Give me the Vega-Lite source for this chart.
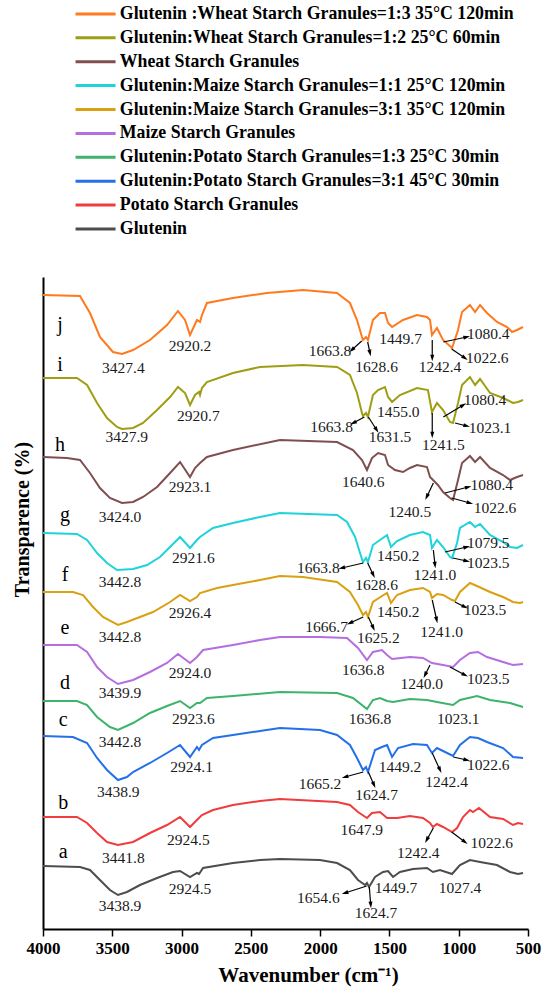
{
"$schema": "https://vega.github.io/schema/vega-lite/v6.json",
"width": 485, "height": 652,
"autosize": "none",
"padding": {"left": 43, "top": 277, "right": 22, "bottom": 65},
"background": "white",
"config": {"view": {"stroke": null}, "font": "Times New Roman, Liberation Serif, DejaVu Serif, serif"},
"datasets": {
"names": [
{"s":"j","name":"Glutenin :Wheat Starch Granules=1:3 35°C 120min"},
{"s":"i","name":"Glutenin:Wheat Starch Granules=1:2 25°C  60min"},
{"s":"h","name":"Wheat Starch Granules"},
{"s":"g","name":"Glutenin:Maize Starch Granules=1:1 25°C  120min"},
{"s":"f","name":"Glutenin:Maize Starch Granules=3:1 35°C  120min"},
{"s":"e","name":"Maize Starch Granules"},
{"s":"d","name":"Glutenin:Potato Starch Granules=1:3 25°C 30min"},
{"s":"c","name":"Glutenin:Potato Starch Granules=3:1 45°C 30min"},
{"s":"b","name":"Potato Starch Granules"},
{"s":"a","name":"Glutenin"}
],
"spectra": [
{"s":"j","w":4000,"t":634},{"s":"j","w":3733,"t":633},{"s":"j","w":3661,"t":616},{"s":"j","w":3589,"t":592},{"s":"j","w":3495,"t":577},{"s":"j","w":3430,"t":575},{"s":"j","w":3350,"t":579},{"s":"j","w":3228,"t":589},{"s":"j","w":3105,"t":604},{"s":"j","w":3026,"t":618},{"s":"j","w":2975,"t":609},{"s":"j","w":2939,"t":594},{"s":"j","w":2889,"t":609},{"s":"j","w":2867,"t":607},{"s":"j","w":2853,"t":614},{"s":"j","w":2817,"t":626},{"s":"j","w":2629,"t":631},{"s":"j","w":2384,"t":636},{"s":"j","w":2124,"t":639},{"s":"j","w":1878,"t":636},{"s":"j","w":1785,"t":626},{"s":"j","w":1734,"t":609},{"s":"j","w":1698,"t":592},{"s":"j","w":1691,"t":589},{"s":"j","w":1669,"t":592},{"s":"j","w":1655,"t":589},{"s":"j","w":1619,"t":609},{"s":"j","w":1568,"t":616},{"s":"j","w":1532,"t":616},{"s":"j","w":1510,"t":606},{"s":"j","w":1481,"t":602},{"s":"j","w":1402,"t":609},{"s":"j","w":1301,"t":614},{"s":"j","w":1229,"t":612},{"s":"j","w":1207,"t":609},{"s":"j","w":1193,"t":594},{"s":"j","w":1157,"t":601},{"s":"j","w":1113,"t":589},{"s":"j","w":1048,"t":581},{"s":"j","w":1005,"t":599},{"s":"j","w":976,"t":617},{"s":"j","w":919,"t":624},{"s":"j","w":882,"t":617},{"s":"j","w":846,"t":624},{"s":"j","w":796,"t":616},{"s":"j","w":724,"t":607},{"s":"j","w":651,"t":602},{"s":"j","w":615,"t":597},{"s":"j","w":579,"t":599},{"s":"j","w":536,"t":602},
{"s":"i","w":4000,"t":551},{"s":"i","w":3755,"t":551},{"s":"i","w":3682,"t":544},{"s":"i","w":3610,"t":526},{"s":"i","w":3538,"t":511},{"s":"i","w":3466,"t":502},{"s":"i","w":3430,"t":500},{"s":"i","w":3350,"t":501},{"s":"i","w":3278,"t":506},{"s":"i","w":3177,"t":519},{"s":"i","w":3083,"t":532},{"s":"i","w":3026,"t":542},{"s":"i","w":2975,"t":536},{"s":"i","w":2939,"t":524},{"s":"i","w":2903,"t":534},{"s":"i","w":2874,"t":537},{"s":"i","w":2867,"t":534},{"s":"i","w":2853,"t":541},{"s":"i","w":2817,"t":547},{"s":"i","w":2629,"t":556},{"s":"i","w":2434,"t":562},{"s":"i","w":2124,"t":564},{"s":"i","w":1878,"t":562},{"s":"i","w":1785,"t":554},{"s":"i","w":1734,"t":536},{"s":"i","w":1698,"t":516},{"s":"i","w":1691,"t":513},{"s":"i","w":1669,"t":516},{"s":"i","w":1655,"t":512},{"s":"i","w":1619,"t":534},{"s":"i","w":1582,"t":539},{"s":"i","w":1532,"t":542},{"s":"i","w":1510,"t":532},{"s":"i","w":1481,"t":527},{"s":"i","w":1424,"t":534},{"s":"i","w":1301,"t":541},{"s":"i","w":1222,"t":539},{"s":"i","w":1193,"t":517},{"s":"i","w":1157,"t":526},{"s":"i","w":1113,"t":519},{"s":"i","w":1063,"t":507},{"s":"i","w":1041,"t":506},{"s":"i","w":1005,"t":526},{"s":"i","w":976,"t":544},{"s":"i","w":919,"t":552},{"s":"i","w":882,"t":544},{"s":"i","w":846,"t":550},{"s":"i","w":774,"t":536},{"s":"i","w":680,"t":531},{"s":"i","w":608,"t":526},{"s":"i","w":572,"t":527},{"s":"i","w":536,"t":529},
{"s":"h","w":4000,"t":472},{"s":"h","w":3827,"t":471},{"s":"h","w":3733,"t":469},{"s":"h","w":3661,"t":456},{"s":"h","w":3589,"t":441},{"s":"h","w":3517,"t":431},{"s":"h","w":3430,"t":426},{"s":"h","w":3350,"t":427},{"s":"h","w":3278,"t":432},{"s":"h","w":3177,"t":442},{"s":"h","w":3083,"t":456},{"s":"h","w":3011,"t":467},{"s":"h","w":2939,"t":452},{"s":"h","w":2903,"t":461},{"s":"h","w":2867,"t":466},{"s":"h","w":2817,"t":472},{"s":"h","w":2629,"t":479},{"s":"h","w":2290,"t":489},{"s":"h","w":1878,"t":487},{"s":"h","w":1763,"t":479},{"s":"h","w":1698,"t":469},{"s":"h","w":1662,"t":459},{"s":"h","w":1626,"t":471},{"s":"h","w":1582,"t":476},{"s":"h","w":1532,"t":474},{"s":"h","w":1510,"t":464},{"s":"h","w":1460,"t":459},{"s":"h","w":1402,"t":457},{"s":"h","w":1352,"t":461},{"s":"h","w":1301,"t":464},{"s":"h","w":1229,"t":462},{"s":"h","w":1207,"t":452},{"s":"h","w":1171,"t":447},{"s":"h","w":1150,"t":444},{"s":"h","w":1113,"t":437},{"s":"h","w":1063,"t":431},{"s":"h","w":1041,"t":429},{"s":"h","w":1005,"t":449},{"s":"h","w":976,"t":466},{"s":"h","w":919,"t":473},{"s":"h","w":882,"t":467},{"s":"h","w":846,"t":472},{"s":"h","w":774,"t":461},{"s":"h","w":680,"t":454},{"s":"h","w":630,"t":449},{"s":"h","w":579,"t":452},{"s":"h","w":536,"t":454},
{"s":"g","w":4000,"t":396},{"s":"g","w":3755,"t":395},{"s":"g","w":3682,"t":389},{"s":"g","w":3610,"t":376},{"s":"g","w":3538,"t":366},{"s":"g","w":3466,"t":359},{"s":"g","w":3350,"t":360},{"s":"g","w":3249,"t":364},{"s":"g","w":3156,"t":372},{"s":"g","w":3069,"t":384},{"s":"g","w":3011,"t":392},{"s":"g","w":2939,"t":381},{"s":"g","w":2889,"t":389},{"s":"g","w":2867,"t":392},{"s":"g","w":2773,"t":401},{"s":"g","w":2629,"t":406},{"s":"g","w":2434,"t":412},{"s":"g","w":2290,"t":416},{"s":"g","w":1878,"t":414},{"s":"g","w":1806,"t":407},{"s":"g","w":1748,"t":392},{"s":"g","w":1712,"t":376},{"s":"g","w":1691,"t":367},{"s":"g","w":1669,"t":371},{"s":"g","w":1655,"t":367},{"s":"g","w":1619,"t":384},{"s":"g","w":1568,"t":389},{"s":"g","w":1517,"t":394},{"s":"g","w":1489,"t":382},{"s":"g","w":1445,"t":388},{"s":"g","w":1352,"t":394},{"s":"g","w":1258,"t":397},{"s":"g","w":1207,"t":394},{"s":"g","w":1193,"t":381},{"s":"g","w":1157,"t":389},{"s":"g","w":1113,"t":382},{"s":"g","w":1063,"t":372},{"s":"g","w":1048,"t":371},{"s":"g","w":1012,"t":386},{"s":"g","w":991,"t":401},{"s":"g","w":919,"t":407},{"s":"g","w":882,"t":402},{"s":"g","w":846,"t":405},{"s":"g","w":774,"t":394},{"s":"g","w":680,"t":387},{"s":"g","w":630,"t":382},{"s":"g","w":579,"t":381},{"s":"g","w":536,"t":384},
{"s":"f","w":4000,"t":337},{"s":"f","w":3784,"t":337},{"s":"f","w":3711,"t":334},{"s":"f","w":3639,"t":322},{"s":"f","w":3567,"t":312},{"s":"f","w":3459,"t":304},{"s":"f","w":3394,"t":307},{"s":"f","w":3300,"t":312},{"s":"f","w":3206,"t":317},{"s":"f","w":3083,"t":327},{"s":"f","w":3011,"t":334},{"s":"f","w":2939,"t":328},{"s":"f","w":2889,"t":332},{"s":"f","w":2867,"t":336},{"s":"f","w":2744,"t":341},{"s":"f","w":2629,"t":344},{"s":"f","w":2434,"t":349},{"s":"f","w":2290,"t":353},{"s":"f","w":2124,"t":352},{"s":"f","w":1878,"t":347},{"s":"f","w":1785,"t":337},{"s":"f","w":1727,"t":324},{"s":"f","w":1691,"t":314},{"s":"f","w":1669,"t":317},{"s":"f","w":1655,"t":312},{"s":"f","w":1619,"t":327},{"s":"f","w":1554,"t":333},{"s":"f","w":1517,"t":336},{"s":"f","w":1489,"t":326},{"s":"f","w":1445,"t":334},{"s":"f","w":1352,"t":339},{"s":"f","w":1258,"t":341},{"s":"f","w":1207,"t":337},{"s":"f","w":1193,"t":331},{"s":"f","w":1157,"t":335},{"s":"f","w":1113,"t":334},{"s":"f","w":1048,"t":329},{"s":"f","w":1027,"t":328},{"s":"f","w":991,"t":337},{"s":"f","w":919,"t":346},{"s":"f","w":868,"t":343},{"s":"f","w":774,"t":337},{"s":"f","w":680,"t":332},{"s":"f","w":608,"t":327},{"s":"f","w":558,"t":326},{"s":"f","w":536,"t":327},
{"s":"e","w":4000,"t":284},{"s":"e","w":3755,"t":284},{"s":"e","w":3682,"t":277},{"s":"e","w":3610,"t":262},{"s":"e","w":3538,"t":252},{"s":"e","w":3459,"t":245},{"s":"e","w":3350,"t":249},{"s":"e","w":3228,"t":257},{"s":"e","w":3105,"t":266},{"s":"e","w":3026,"t":275},{"s":"e","w":2939,"t":266},{"s":"e","w":2889,"t":272},{"s":"e","w":2845,"t":279},{"s":"e","w":2629,"t":284},{"s":"e","w":2434,"t":289},{"s":"e","w":2290,"t":292},{"s":"e","w":2001,"t":292},{"s":"e","w":1806,"t":291},{"s":"e","w":1727,"t":281},{"s":"e","w":1662,"t":269},{"s":"e","w":1619,"t":277},{"s":"e","w":1554,"t":279},{"s":"e","w":1517,"t":274},{"s":"e","w":1481,"t":270},{"s":"e","w":1352,"t":272},{"s":"e","w":1258,"t":271},{"s":"e","w":1193,"t":266},{"s":"e","w":1113,"t":264},{"s":"e","w":1041,"t":262},{"s":"e","w":991,"t":269},{"s":"e","w":919,"t":276},{"s":"e","w":861,"t":277},{"s":"e","w":796,"t":272},{"s":"e","w":680,"t":267},{"s":"e","w":608,"t":264},{"s":"e","w":536,"t":265},
{"s":"d","w":4000,"t":228},{"s":"d","w":3755,"t":228},{"s":"d","w":3682,"t":224},{"s":"d","w":3610,"t":212},{"s":"d","w":3517,"t":202},{"s":"d","w":3459,"t":199},{"s":"d","w":3350,"t":206},{"s":"d","w":3228,"t":216},{"s":"d","w":3105,"t":223},{"s":"d","w":3011,"t":228},{"s":"d","w":2939,"t":221},{"s":"d","w":2889,"t":226},{"s":"d","w":2867,"t":226},{"s":"d","w":2817,"t":231},{"s":"d","w":2629,"t":233},{"s":"d","w":2290,"t":237},{"s":"d","w":1878,"t":236},{"s":"d","w":1763,"t":231},{"s":"d","w":1662,"t":220},{"s":"d","w":1619,"t":229},{"s":"d","w":1568,"t":231},{"s":"d","w":1517,"t":228},{"s":"d","w":1474,"t":227},{"s":"d","w":1352,"t":230},{"s":"d","w":1229,"t":229},{"s":"d","w":1157,"t":227},{"s":"d","w":1041,"t":224},{"s":"d","w":991,"t":229},{"s":"d","w":868,"t":233},{"s":"d","w":774,"t":229},{"s":"d","w":630,"t":226},{"s":"d","w":536,"t":222},
{"s":"c","w":4000,"t":193},{"s":"c","w":3784,"t":192},{"s":"c","w":3682,"t":186},{"s":"c","w":3610,"t":171},{"s":"c","w":3538,"t":159},{"s":"c","w":3459,"t":149},{"s":"c","w":3394,"t":152},{"s":"c","w":3350,"t":157},{"s":"c","w":3228,"t":166},{"s":"c","w":3105,"t":176},{"s":"c","w":3011,"t":184},{"s":"c","w":2939,"t":172},{"s":"c","w":2889,"t":182},{"s":"c","w":2874,"t":179},{"s":"c","w":2853,"t":184},{"s":"c","w":2773,"t":191},{"s":"c","w":2629,"t":194},{"s":"c","w":2434,"t":198},{"s":"c","w":2290,"t":201},{"s":"c","w":2001,"t":199},{"s":"c","w":1878,"t":194},{"s":"c","w":1785,"t":184},{"s":"c","w":1734,"t":171},{"s":"c","w":1691,"t":159},{"s":"c","w":1669,"t":162},{"s":"c","w":1655,"t":157},{"s":"c","w":1604,"t":179},{"s":"c","w":1554,"t":182},{"s":"c","w":1517,"t":184},{"s":"c","w":1481,"t":172},{"s":"c","w":1438,"t":181},{"s":"c","w":1330,"t":185},{"s":"c","w":1229,"t":184},{"s":"c","w":1193,"t":176},{"s":"c","w":1157,"t":181},{"s":"c","w":1113,"t":178},{"s":"c","w":1041,"t":173},{"s":"c","w":991,"t":184},{"s":"c","w":919,"t":192},{"s":"c","w":861,"t":191},{"s":"c","w":796,"t":187},{"s":"c","w":680,"t":181},{"s":"c","w":608,"t":172},{"s":"c","w":536,"t":171},
{"s":"b","w":4000,"t":112},{"s":"b","w":3755,"t":112},{"s":"b","w":3682,"t":106},{"s":"b","w":3610,"t":96},{"s":"b","w":3538,"t":87},{"s":"b","w":3459,"t":84},{"s":"b","w":3350,"t":87},{"s":"b","w":3228,"t":96},{"s":"b","w":3105,"t":104},{"s":"b","w":3011,"t":112},{"s":"b","w":2939,"t":102},{"s":"b","w":2889,"t":109},{"s":"b","w":2853,"t":114},{"s":"b","w":2773,"t":119},{"s":"b","w":2629,"t":124},{"s":"b","w":2434,"t":128},{"s":"b","w":2290,"t":130},{"s":"b","w":1878,"t":127},{"s":"b","w":1785,"t":124},{"s":"b","w":1727,"t":117},{"s":"b","w":1662,"t":111},{"s":"b","w":1626,"t":116},{"s":"b","w":1568,"t":117},{"s":"b","w":1517,"t":111},{"s":"b","w":1445,"t":111},{"s":"b","w":1352,"t":113},{"s":"b","w":1258,"t":111},{"s":"b","w":1207,"t":106},{"s":"b","w":1186,"t":102},{"s":"b","w":1157,"t":105},{"s":"b","w":1113,"t":102},{"s":"b","w":1048,"t":97},{"s":"b","w":1012,"t":101},{"s":"b","w":969,"t":112},{"s":"b","w":919,"t":119},{"s":"b","w":897,"t":117},{"s":"b","w":854,"t":121},{"s":"b","w":774,"t":112},{"s":"b","w":680,"t":110},{"s":"b","w":608,"t":104},{"s":"b","w":572,"t":106},{"s":"b","w":536,"t":105},
{"s":"a","w":4000,"t":63},{"s":"a","w":3733,"t":62},{"s":"a","w":3661,"t":59},{"s":"a","w":3589,"t":49},{"s":"a","w":3517,"t":39},{"s":"a","w":3459,"t":34},{"s":"a","w":3394,"t":37},{"s":"a","w":3300,"t":44},{"s":"a","w":3177,"t":51},{"s":"a","w":3062,"t":57},{"s":"a","w":3011,"t":58},{"s":"a","w":2939,"t":52},{"s":"a","w":2889,"t":56},{"s":"a","w":2874,"t":55},{"s":"a","w":2845,"t":61},{"s":"a","w":2629,"t":66},{"s":"a","w":2434,"t":69},{"s":"a","w":2290,"t":70},{"s":"a","w":2001,"t":69},{"s":"a","w":1878,"t":66},{"s":"a","w":1785,"t":59},{"s":"a","w":1727,"t":49},{"s":"a","w":1676,"t":44},{"s":"a","w":1662,"t":46},{"s":"a","w":1647,"t":42},{"s":"a","w":1604,"t":52},{"s":"a","w":1546,"t":57},{"s":"a","w":1510,"t":58},{"s":"a","w":1474,"t":52},{"s":"a","w":1424,"t":57},{"s":"a","w":1330,"t":60},{"s":"a","w":1229,"t":61},{"s":"a","w":1186,"t":57},{"s":"a","w":1135,"t":59},{"s":"a","w":1048,"t":55},{"s":"a","w":991,"t":64},{"s":"a","w":919,"t":69},{"s":"a","w":846,"t":67},{"s":"a","w":724,"t":64},{"s":"a","w":630,"t":57},{"s":"a","w":572,"t":55},{"s":"a","w":536,"t":56}
],
"letters": [
{"lab":"j","w":3877,"t":604},{"lab":"i","w":3877,"t":564},{"lab":"h","w":3877,"t":484},{"lab":"g","w":3841,"t":414},{"lab":"f","w":3841,"t":354},{"lab":"e","w":3841,"t":301},{"lab":"d","w":3841,"t":246},{"lab":"c","w":3854,"t":209},{"lab":"b","w":3854,"t":126},{"lab":"a","w":3854,"t":77}
],
"peaks": [
{"lab":"3427.4","w":3420,"t":561},{"lab":"2920.2","w":2939,"t":583},{"lab":"1663.8","w":1929,"t":578},{"lab":"1628.6","w":1592,"t":562},{"lab":"1449.7","w":1419,"t":590},{"lab":"1242.4","w":1135,"t":562},{"lab":"1080.4","w":787,"t":595},{"lab":"1022.6","w":794,"t":571},
{"lab":"3427.9","w":3396,"t":492},{"lab":"2920.7","w":2879,"t":513},{"lab":"1663.8","w":1917,"t":502},{"lab":"1631.5","w":1496,"t":492},{"lab":"1455.0","w":1436,"t":517},{"lab":"1241.5","w":1111,"t":484},{"lab":"1080.4","w":810,"t":529},{"lab":"1023.1","w":774,"t":501},
{"lab":"3424.0","w":3444,"t":412},{"lab":"2923.1","w":2939,"t":442},{"lab":"1640.6","w":1689,"t":447},{"lab":"1240.5","w":1352,"t":417},{"lab":"1080.4","w":762,"t":444},{"lab":"1022.6","w":738,"t":421},
{"lab":"3442.8","w":3444,"t":347},{"lab":"2921.6","w":2915,"t":371},{"lab":"1663.8","w":2013,"t":361},{"lab":"1628.6","w":1592,"t":344},{"lab":"1450.2","w":1436,"t":373},{"lab":"1241.0","w":1171,"t":354},{"lab":"1079.5","w":787,"t":386},{"lab":"1023.5","w":787,"t":366},
{"lab":"3442.8","w":3444,"t":292},{"lab":"2926.4","w":2939,"t":316},{"lab":"1666.7","w":1953,"t":302},{"lab":"1625.2","w":1580,"t":291},{"lab":"1450.2","w":1436,"t":317},{"lab":"1241.0","w":1123,"t":297},{"lab":"1023.5","w":810,"t":319},
{"lab":"3439.9","w":3444,"t":236},{"lab":"2924.0","w":2939,"t":256},{"lab":"1636.8","w":1689,"t":259},{"lab":"1240.0","w":1267,"t":245},{"lab":"1023.5","w":787,"t":250},
{"lab":"3442.8","w":3444,"t":187},{"lab":"2923.6","w":2915,"t":210},{"lab":"1636.8","w":1640,"t":210},{"lab":"1023.1","w":1003,"t":210},
{"lab":"3438.9","w":3457,"t":137},{"lab":"2924.1","w":2927,"t":162},{"lab":"1665.2","w":2001,"t":145},{"lab":"1624.7","w":1592,"t":134},{"lab":"1449.2","w":1424,"t":162},{"lab":"1242.4","w":1087,"t":147},{"lab":"1022.6","w":787,"t":164},
{"lab":"3441.8","w":3420,"t":71},{"lab":"2924.5","w":2951,"t":89},{"lab":"1647.9","w":1700,"t":99},{"lab":"1242.4","w":1292,"t":76},{"lab":"1022.6","w":762,"t":86},
{"lab":"3438.9","w":3444,"t":23},{"lab":"2924.5","w":2939,"t":40},{"lab":"1654.6","w":2013,"t":31},{"lab":"1624.7","w":1597,"t":16},{"lab":"1449.7","w":1453,"t":41},{"lab":"1027.4","w":991,"t":41}
],
"arrows": [
{"w1":1700,"t1":588,"w2":1772,"t2":579},{"w1":1657,"t1":587,"w2":1640,"t2":576},{"w1":1191,"t1":589,"w2":1191,"t2":571},{"w1":1111,"t1":587,"w2":942,"t2":592},{"w1":1051,"t1":580,"w2":955,"t2":571},
{"w1":1681,"t1":512,"w2":1761,"t2":506},{"w1":1652,"t1":512,"w2":1592,"t2":499},{"w1":1191,"t1":516,"w2":1191,"t2":494},{"w1":1111,"t1":512,"w2":967,"t2":524},{"w1":1027,"t1":506,"w2":942,"t2":503},
{"w1":1183,"t1":446,"w2":1231,"t2":432},{"w1":1099,"t1":436,"w2":931,"t2":442},{"w1":1051,"t1":431,"w2":919,"t2":426},
{"w1":1689,"t1":366,"w2":1844,"t2":361},{"w1":1657,"t1":366,"w2":1616,"t2":354},{"w1":1183,"t1":379,"w2":1171,"t2":364},{"w1":1099,"t1":377,"w2":942,"t2":382},{"w1":1043,"t1":371,"w2":942,"t2":368},
{"w1":1689,"t1":312,"w2":1785,"t2":306},{"w1":1652,"t1":312,"w2":1616,"t2":301},{"w1":1191,"t1":329,"w2":1159,"t2":309},{"w1":1027,"t1":327,"w2":955,"t2":322},
{"w1":1207,"t1":264,"w2":1243,"t2":254},{"w1":1063,"t1":262,"w2":955,"t2":254},
{"w1":1689,"t1":157,"w2":1821,"t2":152},{"w1":1652,"t1":157,"w2":1611,"t2":144},{"w1":1191,"t1":176,"w2":1135,"t2":159},{"w1":1039,"t1":172,"w2":942,"t2":169},
{"w1":1183,"t1":101,"w2":1231,"t2":89},{"w1":1051,"t1":97,"w2":955,"t2":87},
{"w1":1664,"t1":43,"w2":1821,"t2":36},{"w1":1645,"t1":42,"w2":1635,"t2":24}
]
},
"layer": [
{
"data": {"name": "spectra"},
"transform": [{"lookup": "s", "from": {"data": {"name": "names"}, "key": "s", "fields": ["name"]}}],
"mark": {"type": "line", "strokeWidth": 2},
"encoding": {
"x": {"field": "w", "type": "quantitative",
 "scale": {"domain": [4000, 500], "nice": false, "zero": false},
 "axis": {"values": [4000,3750,3500,3250,3000,2750,2500,2250,2000,1750,1500,1250,1000,750,500],
  "format": "d", "labelExpr": "datum.value % 500 === 0 ? datum.label : ''",
  "labelFont": "Times New Roman, Liberation Serif, serif", "labelFontWeight": "bold", "labelFontSize": 17, "labelColor": "black",
  "labelFlush": false, "labelPadding": 4, "labelOverlap": false,
  "tickColor": "black", "tickSize": 7, "tickWidth": 1.5,
  "domainColor": "black", "domainWidth": 2, "grid": false,
  "title": "Wavenumber (cm⁻¹)", "titleFont": "Times New Roman, Liberation Serif, serif", "titleFontWeight": "bold", "titleFontSize": 21,
  "titleColor": "black", "titleX": 265, "titleY": 52, "titleBaseline": "alphabetic"}},
"y": {"field": "t", "type": "quantitative",
 "scale": {"domain": [0, 652], "nice": false, "zero": false},
 "axis": {"ticks": false, "labels": false, "grid": false, "domainColor": "black", "domainWidth": 2,
  "title": "Transparence (%)", "titleFont": "Times New Roman, Liberation Serif, serif", "titleFontWeight": "bold", "titleFontSize": 20,
  "titleColor": "black", "titlePadding": 11, "titleY": 242}},
"color": {"field": "name", "type": "nominal",
 "scale": {"domain": [
  "Glutenin :Wheat Starch Granules=1:3 35°C 120min",
  "Glutenin:Wheat Starch Granules=1:2 25°C  60min",
  "Wheat Starch Granules",
  "Glutenin:Maize Starch Granules=1:1 25°C  120min",
  "Glutenin:Maize Starch Granules=3:1 35°C  120min",
  "Maize Starch Granules",
  "Glutenin:Potato Starch Granules=1:3 25°C 30min",
  "Glutenin:Potato Starch Granules=3:1 45°C 30min",
  "Potato Starch Granules",
  "Glutenin"],
  "range": ["#FF7A1F","#9E9E14","#7F4F4F","#1ED3DA","#D9A012","#B46EE0","#3DB36B","#2370E8","#F03C3C","#4D4D4D"]},
 "legend": {"orient": "none", "legendX": 57, "legendY": -272, "title": null,
  "symbolType": "M-5,0H1", "symbolSize": 178, "symbolStrokeWidth": 3,
  "labelFont": "Times New Roman, Liberation Serif, serif", "labelFontWeight": "bold", "labelFontSize": 17.8, "labelColor": "black",
  "labelLimit": 600, "rowPadding": 4.9, "labelOffset": 2, "padding": 0}}
}
},
{
"data": {"name": "peaks"},
"mark": {"type": "text", "font": "Times New Roman, Liberation Serif, serif", "fontSize": 15.5, "color": "#1a1a1a", "align": "center", "baseline": "middle"},
"encoding": {"x": {"field": "w", "type": "quantitative"}, "y": {"field": "t", "type": "quantitative"}, "text": {"field": "lab"}}
},
{
"data": {"name": "letters"},
"mark": {"type": "text", "font": "Times New Roman, Liberation Serif, serif", "fontSize": 20, "color": "black", "align": "center", "baseline": "middle"},
"encoding": {"x": {"field": "w", "type": "quantitative"}, "y": {"field": "t", "type": "quantitative"}, "text": {"field": "lab"}}
},
{
"data": {"name": "arrows"},
"mark": {"type": "rule", "color": "black", "strokeWidth": 1.2},
"encoding": {"x": {"field": "w1", "type": "quantitative"}, "y": {"field": "t1", "type": "quantitative"},
 "x2": {"field": "w2"}, "y2": {"field": "t2"}}
},
{
"data": {"name": "arrows"},
"transform": [{"calculate": "atan2(-(datum.w2-datum.w1)*485/3500, datum.t2-datum.t1)*180/PI", "as": "ang"}],
"mark": {"type": "point", "filled": true, "color": "black", "opacity": 1, "size": 45, "shape": "M0,-1L0.6,1L-0.6,1Z"},
"encoding": {"x": {"field": "w2", "type": "quantitative"}, "y": {"field": "t2", "type": "quantitative"},
 "angle": {"field": "ang", "type": "quantitative", "scale": null}}
}
]
}
